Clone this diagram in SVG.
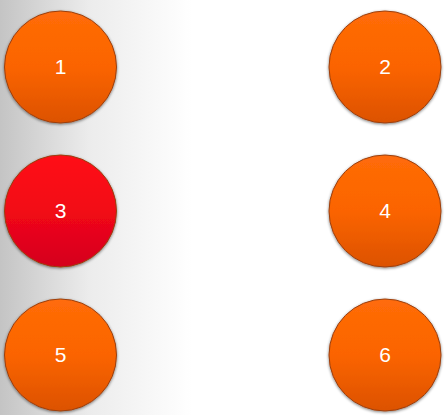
<svg xmlns="http://www.w3.org/2000/svg" width="447" height="415" viewBox="0 0 447 415">
<defs>
<linearGradient id="bg" x1="0" y1="0" x2="1" y2="0">
<stop offset="0" stop-color="#c4c4c4"/>
<stop offset="0.2" stop-color="#ececec"/>
<stop offset="0.43" stop-color="#ffffff"/>
<stop offset="1" stop-color="#ffffff"/>
</linearGradient>
<linearGradient id="org" x1="0" y1="0" x2="0" y2="1">
<stop offset="0" stop-color="#ff6c08"/>
<stop offset="0.5" stop-color="#fb6400"/>
<stop offset="1" stop-color="#dc5200"/>
</linearGradient>
<linearGradient id="red" x1="0" y1="0" x2="0" y2="1">
<stop offset="0" stop-color="#ff0c14"/>
<stop offset="0.5" stop-color="#f20818"/>
<stop offset="1" stop-color="#d4001e"/>
</linearGradient>
<filter id="sh" x="-20%" y="-20%" width="140%" height="140%">
<feGaussianBlur in="SourceAlpha" stdDeviation="1.5"/>
<feOffset dx="0" dy="1" result="b"/>
<feComponentTransfer><feFuncA type="linear" slope="0.5"/></feComponentTransfer>
<feMerge><feMergeNode/><feMergeNode in="SourceGraphic"/></feMerge>
</filter>
</defs>
<style>
.c{stroke:#9a4010;stroke-width:1;filter:url(#sh)}
.t{font-family:"Liberation Sans",Arial,sans-serif;font-size:21px;fill:#ffffff;text-anchor:middle;dominant-baseline:central}
</style>
<rect width="447" height="415" fill="url(#bg)"/>
<g id="connectors"/>
<g id="node1"><circle class="c" cx="60.5" cy="67" r="56" fill="url(#org)"/><text class="t" x="60.5" y="66.5">1</text></g>
<g id="node2"><circle class="c" cx="385" cy="67" r="56" fill="url(#org)"/><text class="t" x="385" y="66.5">2</text></g>
<g id="node3"><circle class="c" cx="60.5" cy="211" r="56" fill="url(#red)" stroke="#8a0018"/><text class="t" x="60.5" y="210.5">3</text></g>
<g id="node4"><circle class="c" cx="385" cy="211" r="56" fill="url(#org)"/><text class="t" x="385" y="210.5">4</text></g>
<g id="node5"><circle class="c" cx="60.5" cy="355" r="56" fill="url(#org)"/><text class="t" x="60.5" y="354.5">5</text></g>
<g id="node6"><circle class="c" cx="385" cy="355" r="56" fill="url(#org)"/><text class="t" x="385" y="354.5">6</text></g>
</svg>
